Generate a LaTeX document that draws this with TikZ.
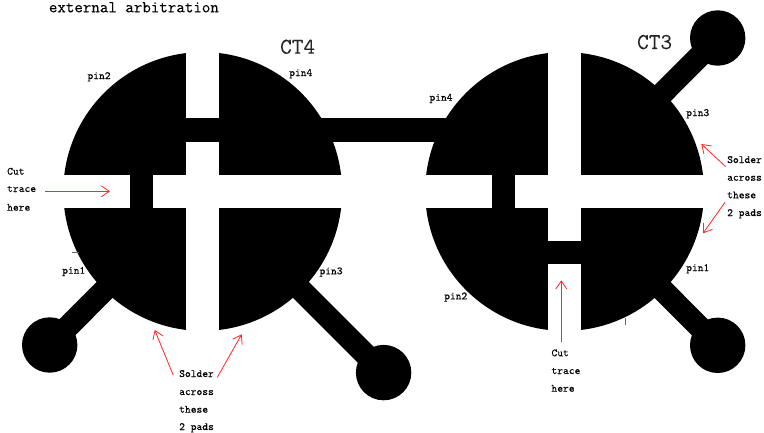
\documentclass[tikz,border=0pt]{standalone}
\usepackage{fontspec}
\setmonofont[FakeBold=0.1]{Latin Modern Mono}
\usetikzlibrary{arrows.meta}
\definecolor{redline}{HTML}{FF2828}
\tikzset{
  disc/.style={circle,fill=black,draw=none,inner sep=0pt,minimum size=278.8pt},
  padc/.style={circle,fill=black,draw=none,inner sep=0pt,minimum size=55.4pt},
  trace/.style={line width=22.5pt,black},
  copper/.style={fill=black,draw=none},
  gap/.style={fill=white,draw=none},
  redarrow/.style={draw=redline,line width=0.8pt,-{Straight Barb[length=8pt,width=11pt,line width=0.8pt]}},
  small/.style={anchor=base west,inner sep=0pt,font=\ttfamily\fontsize{11pt}{12pt}\selectfont,text=black},
  title/.style={anchor=base west,inner sep=0pt,font=\ttfamily\fontsize{16.5pt}{17pt}\selectfont},
  ctlabel/.style={anchor=base west,inner sep=0pt,font=\ttfamily\fontsize{22.6pt}{23pt}\selectfont,text=black!85},
  tick/.style={draw=black!60,line width=0.6pt}
}
\begin{document}
\begin{tikzpicture}[x=1pt,y=-1pt]
\useasboundingbox (0,0) rectangle (764,432);
\fill[white] (0,0) rectangle (764,432);
% discs and pads
\node[disc] (ct4) at (202.7,191.5) {};
\node[disc] (ct3) at (564.6,191.5) {};
\node[padc] (p41) at (49.7,345) {};
\node[padc] (p43) at (383.6,372.6) {};
\node[padc] (p33) at (717.7,38) {};
\node[padc] (p31) at (717.7,345.3) {};
\draw[trace] (ct4.center) -- (p41.center);
\draw[trace] (ct4.center) -- (p43.center);
\draw[trace] (ct3.center) -- (p33.center);
\draw[trace] (ct3.center) -- (p31.center);
% gaps between the pads
\fill[gap] (60,175) rectangle (345,208);
\fill[gap] (186.3,45) rectangle (219.2,338);
\fill[gap] (422,175) rectangle (707,208);
\fill[gap] (548.1,45) rectangle (581,338);
% bridges
\fill[copper] (180,118.3) rectangle (470,142);
\fill[copper] (130,170) rectangle (153.3,212);
\fill[copper] (492.3,170) rectangle (514.7,212);
\fill[copper] (543,241) rectangle (586,264.3);
% stray ticks
\coordinate (t1a) at (71.7,252); \coordinate (t1b) at (79,252);
\coordinate (t2a) at (625.7,318); \coordinate (t2b) at (625.7,324.5);
\draw[tick] (t1a) -- (t1b);
\draw[tick] (t2a) -- (t2b);
% labels
\node[title] (ttl) at (48.7,12.3) {external arbitration};
\node[ctlabel] (l4) at (280,53.7) {CT4};
\node[ctlabel] (l3) at (637,49) {CT3};
\node[small] (a2) at (87.3,79) {pin2};
\node[small] (a4) at (289,76) {pin4};
\node[small] (a1) at (62,273.7) {pin1};
\node[small] (a3) at (319.3,274.3) {pin3};
\node[small] (b4) at (429.3,100.7) {pin4};
\node[small] (b3) at (686,116) {pin3};
\node[small] (b1) at (686,271) {pin1};
\node[small] (b2) at (444,299.3) {pin2};
\node[small] (c1a) at (7,174.7) {Cut};
\node[small] (c1b) at (7,192) {trace};
\node[small] (c1c) at (7,210.7) {here};
\node[small] (c2a) at (551.3,356.3) {Cut};
\node[small] (c2b) at (551.3,374) {trace};
\node[small] (c2c) at (551.3,391.7) {here};
\node[small] (s1a) at (727,163) {Solder};
\node[small] (s1b) at (727,180.7) {across};
\node[small] (s1c) at (727,198.3) {these};
\node[small] (s1d) at (727,216) {2 pads};
\node[small] (s2a) at (179,377) {Solder};
\node[small] (s2b) at (179,395) {across};
\node[small] (s2c) at (179,412.7) {these};
\node[small] (s2d) at (179,430) {2 pads};
% arrows
\coordinate (r1a) at (45,191.3);    \coordinate (r1b) at (110,191.3);
\coordinate (r2a) at (725.7,166.7); \coordinate (r2b) at (701.3,144);
\coordinate (r3a) at (725,202.3);   \coordinate (r3b) at (703,233.3);
\coordinate (r4a) at (173.3,375.3); \coordinate (r4b) at (154.7,330);
\coordinate (r5a) at (217.3,377.3); \coordinate (r5b) at (241.7,334.3);
\coordinate (r6a) at (561.3,341.7); \coordinate (r6b) at (561.3,280.3);
\draw[redarrow] (r1a) -- (r1b);
\draw[redarrow] (r2a) -- (r2b);
\draw[redarrow] (r3a) -- (r3b);
\draw[redarrow] (r4a) -- (r4b);
\draw[redarrow] (r5a) -- (r5b);
\draw[redarrow] (r6a) -- (r6b);
\end{tikzpicture}
\end{document}
